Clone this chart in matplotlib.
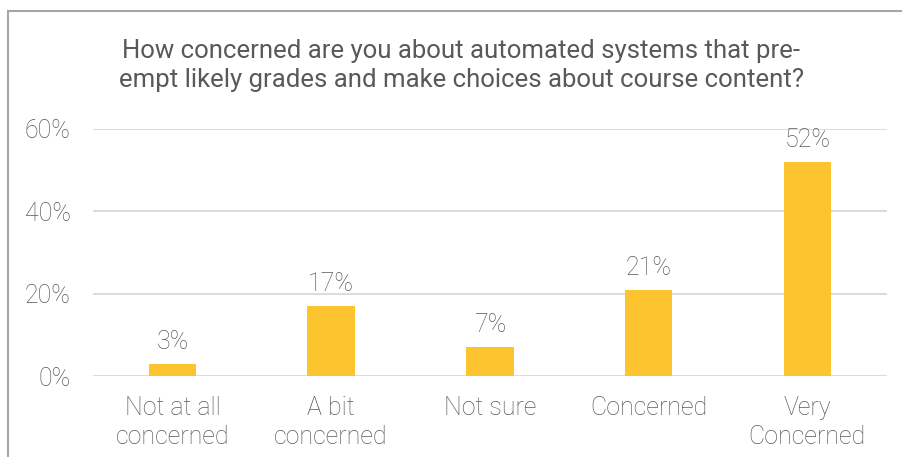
import matplotlib.pyplot as plt
from matplotlib.ticker import PercentFormatter

categories = ["Not at all\nconcerned", "A bit\nconcerned", "Not sure", "Concerned", "Very\nConcerned"]
values = [3, 17, 7, 21, 52]
yticks = [0, 20, 40, 60]

title = ("How concerned are you about automated systems that pre-\n"
         "empt likely grades and make choices about course content?")

plt.rcParams['font.family'] = ['Roboto', 'DejaVu Sans']
txt = '#595959'
bar_color = '#FCC42E'

fig = plt.figure(figsize=(9.03, 4.57), dpi=100)
ax = fig.add_axes([0.103, 0.177, 0.879, 0.541])

x = range(len(categories))
ax.bar(x, values, width=0.30, color=bar_color, zorder=3)
for xi, v in zip(x, values):
    ax.text(xi, v + 2.4, f"{v}%", ha='center', va='bottom', fontsize=18,
            color=txt, fontweight='light')

ax.set_xlim(-0.5, len(categories) - 0.5)
ax.set_ylim(0, 60)
ax.set_yticks(yticks)
ax.yaxis.set_major_formatter(PercentFormatter(decimals=0))
ax.set_xticks(list(x))
ax.set_xticklabels(categories, linespacing=1.28)
ax.tick_params(length=0, labelsize=18, labelcolor=txt)
ax.tick_params(axis='y', pad=16)
ax.tick_params(axis='x', pad=14)
for lbl in ax.get_xticklabels() + ax.get_yticklabels():
    lbl.set_fontweight('light')

ax.grid(axis='y', color='#D9D9D9', linewidth=1.3, zorder=0)
for s in ax.spines.values():
    s.set_visible(False)

fig.text(0.511, 0.915, title, ha='center', va='top', fontsize=18.5, color=txt,
         linespacing=1.25)

# frame edges along left and top
fig.add_artist(plt.Line2D([8 / 903, 8 / 903], [0, 1 - 11 / 457], color='#A6A6A6', linewidth=1.5))
fig.add_artist(plt.Line2D([8 / 903, 1], [1 - 11 / 457, 1 - 11 / 457], color='#A6A6A6', linewidth=1.5))

fig.savefig('out.png', dpi=100)
